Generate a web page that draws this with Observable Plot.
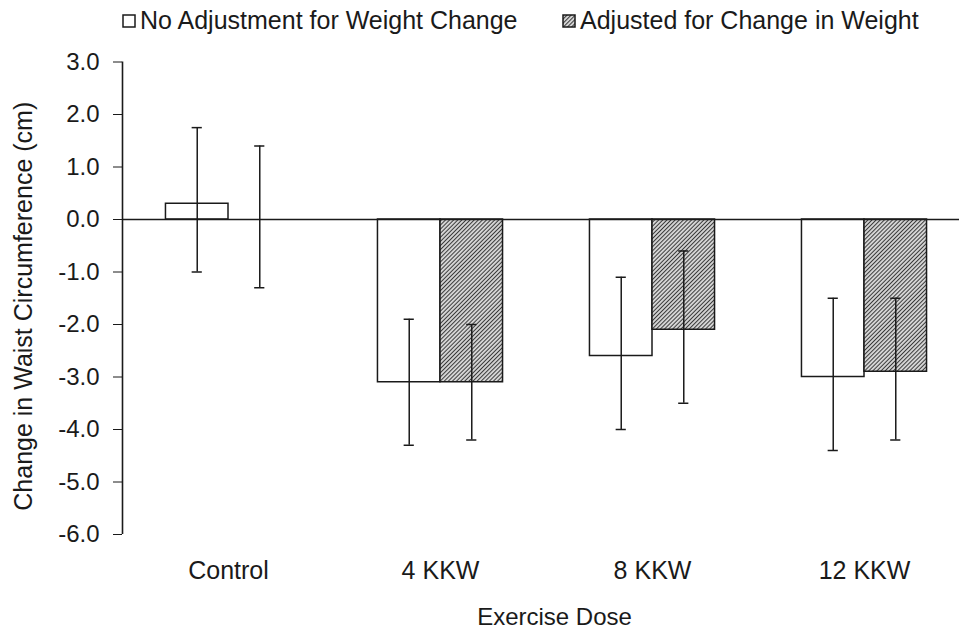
<!DOCTYPE html>
<html>
<head>
<meta charset="utf-8">
<script src="https://cdn.jsdelivr.net/npm/d3@7"></script>
<script src="https://cdn.jsdelivr.net/npm/@observablehq/plot@0.6"></script>
<style>
  html, body { margin: 0; padding: 0; background: white; }
  #wrap { position: relative; width: 959px; height: 630px; font-family: "Liberation Sans", Arial, sans-serif; color: #1a1a1a; }
  #legend { position: relative; width: 959px; height: 40px; font-size: 25px; }
  .item { position: absolute; top: 6px; display: flex; align-items: center; white-space: nowrap; }
  .item svg { margin-right: 4px; }
</style>
</head>
<body>
<div id="wrap">
  <div id="legend"></div>
  <div id="chart"></div>
</div>
<script>
const categories = ["Control", "4 KKW", "8 KKW", "12 KKW"];
const seriesNames = ["No Adjustment for Weight Change", "Adjusted for Change in Weight"];
const noAdj     = [0.3, -3.1, -2.6, -3.0];
const noAdjLow  = [-1.0, -4.3, -4.0, -4.4];
const noAdjHigh = [1.75, -1.9, -1.1, -1.5];
const adj       = [0.0, -3.1, -2.1, -2.9];
const adjLow    = [-1.3, -4.2, -3.5, -4.2];
const adjHigh   = [1.4, -2.0, -0.6, -1.5];
const yTicks = [-6, -5, -4, -3, -2, -1, 0, 1, 2, 3];
const xTitle = "Exercise Dose";
const yTitle = "Change in Waist Circumference (cm)";

const rows = categories.flatMap((c, i) => [
  {cat: c, i, s: 0, value: noAdj[i], lo: noAdjLow[i], hi: noAdjHigh[i]},
  {cat: c, i, s: 1, value: adj[i], lo: adjLow[i], hi: adjHigh[i]}
]);

const W = 0.295;    // bar width in category units
const CAP = 0.024;  // half cap width in category units
const x1 = d => d.s === 0 ? d.i - W : d.i;
const x2 = d => d.s === 0 ? d.i : d.i + W;
const xc = d => d.s === 0 ? d.i - W / 2 : d.i + W / 2;

const ink = "#1a1a1a";

const chart = Plot.plot({
  width: 959,
  height: 590,
  marginTop: 21.5,
  marginBottom: 96,
  marginLeft: 122,
  marginRight: -11,
  style: {fontFamily: "Liberation Sans, Arial, sans-serif", fontSize: "24px", color: ink, background: "white"},
  x: {
    type: "linear",
    domain: [-0.5, 3.5],
    ticks: [0, 1, 2, 3],
    tickFormat: i => categories[i],
    tickSize: 0,
    tickPadding: 27,
    label: null
  },
  y: {
    domain: [-6, 3],
    ticks: yTicks,
    tickFormat: d => d.toFixed(1),
    tickSize: 9,
    tickPadding: 14,
    label: null
  },
  marks: [
    Plot.rect(rows, {x1, x2, y1: 0, y2: "value", fill: d => d.s === 0 ? "white" : "url(#hatch)", stroke: ink, strokeWidth: 1.5}),
    Plot.ruleY([0], {stroke: ink, strokeWidth: 1.6}),
    Plot.ruleX([-0.5], {y1: -6, y2: 3, stroke: ink, strokeWidth: 1.6}),
    Plot.ruleX(rows, {x: xc, y1: "lo", y2: "hi", stroke: ink, strokeWidth: 1.5}),
    Plot.ruleY(rows, {y: "hi", x1: d => xc(d) - CAP, x2: d => xc(d) + CAP, stroke: ink, strokeWidth: 1.5}),
    Plot.ruleY(rows, {y: "lo", x1: d => xc(d) - CAP, x2: d => xc(d) + CAP, stroke: ink, strokeWidth: 1.5}),
    Plot.text([xTitle], {frameAnchor: "bottom", textAnchor: "middle", lineAnchor: "middle", dx: 8, dy: 83, fontSize: 24, fill: ink}),
    Plot.text([yTitle], {frameAnchor: "left", textAnchor: "middle", lineAnchor: "middle", rotate: -90, dx: -99, dy: 8, fontSize: 25, fill: ink})
  ]
});

const pattern = (id) => `<pattern id="${id}" patternUnits="userSpaceOnUse" width="2.9" height="2.9" patternTransform="rotate(45)">
  <rect width="2.9" height="2.9" fill="#f2f2f2"/>
  <line x1="1.45" y1="0" x2="1.45" y2="2.9" stroke="#3a3a3a" stroke-width="1.3"/>
</pattern>`;

d3.select(chart).insert("defs", ":first-child").html(pattern("hatch"));
d3.select(chart).selectAll("text").attr("fill", ink);
d3.select(chart).selectAll('[aria-label="x-axis tick label"] text').style("font-size", "25px");
document.getElementById("chart").appendChild(chart);

// legend
const legend = d3.select("#legend");
const lefts = [122, 562];
seriesNames.forEach((name, k) => {
  const item = legend.append("div").attr("class", "item").style("left", lefts[k] + "px");
  const sw = item.append("svg").attr("width", 14).attr("height", 14);
  if (k === 1) sw.append("defs").html(pattern("hatchLegend"));
  sw.append("rect").attr("x", 1).attr("y", 1).attr("width", 12).attr("height", 12)
    .attr("fill", k === 0 ? "white" : "url(#hatchLegend)")
    .attr("stroke", ink).attr("stroke-width", 1.5);
  item.append("span").text(name);
});
</script>
</body>
</html>
